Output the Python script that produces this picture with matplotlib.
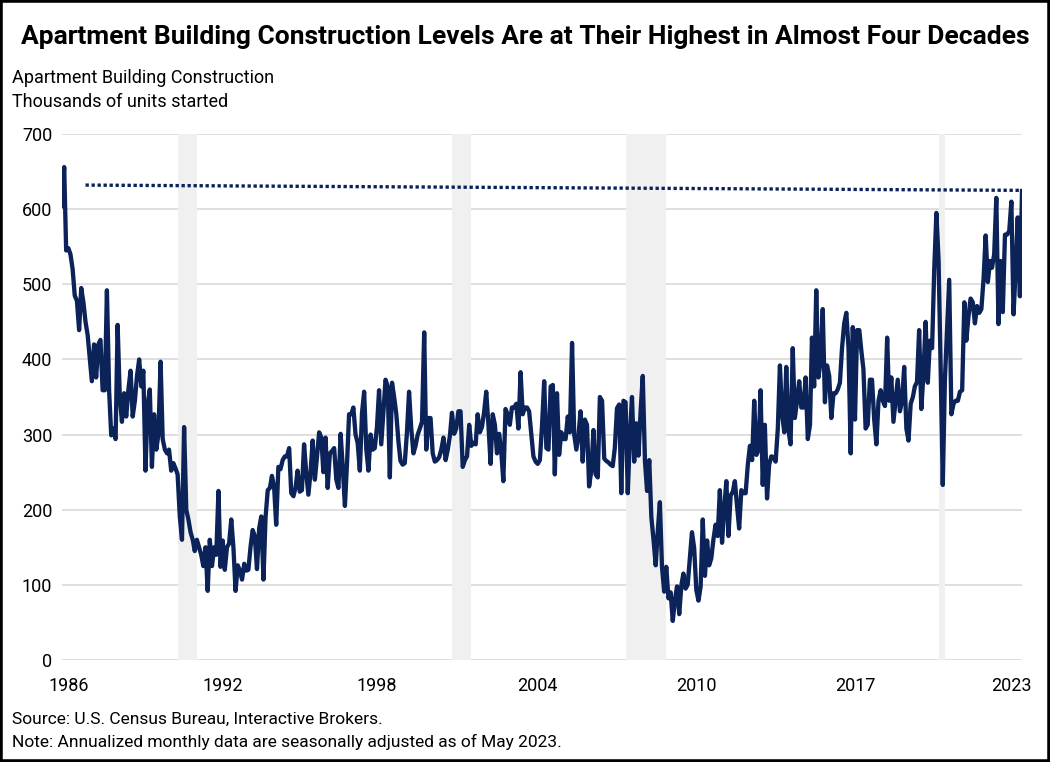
import matplotlib.pyplot as plt
import matplotlib.patches as patches
import pandas as pd

NAVY = '#0b2359'
GRID = '#d9d9d9'
BAND = '#f0f0f0'
FONT = ['Liberation Sans Narrow', 'Roboto', 'DejaVu Sans']

# monthly apartment starts (5+ units), thousands, Jan 1986 .. May 2023
starts_1980s = [
    604, 656, 545, 548, 540, 520, 485, 478, 439, 495, 476, 450,
    432, 400, 371, 420, 376, 420, 426, 359, 359, 492, 359, 299,
    308, 294, 446, 350, 317, 355, 324, 360, 385, 324, 345, 378,
    400, 364, 385, 252, 340, 360, 257, 327, 280, 300, 397, 294,
]
starts_1990s = [
    280, 275, 280, 252, 262, 255, 247, 191, 160, 310, 200, 187,
    170, 160, 145, 160, 150, 140, 125, 150, 92, 160, 125, 150,
    140, 225, 124, 159, 120, 150, 155, 187, 149, 92, 126, 119,
    107, 128, 119, 120, 150, 173, 165, 121, 175, 191, 107, 190,
    226, 229, 245, 231, 180, 257, 254, 266, 271, 271, 282, 222,
    218, 230, 252, 224, 226, 287, 250, 220, 250, 292, 240, 270,
    303, 296, 250, 296, 229, 275, 278, 282, 240, 229, 301, 257,
    205, 264, 327, 327, 336, 300, 289, 252, 329, 357, 280, 252,
    300, 280, 282, 310, 359, 287, 330, 373, 364, 243, 369, 350,
    327, 290, 265, 260, 262, 303, 357, 308, 275, 285, 300, 308,
]
starts_2000s = [
    317, 436, 280, 322, 322, 275, 264, 266, 270, 280, 296, 266,
    280, 299, 329, 301, 308, 331, 331, 257, 266, 271, 313, 285,
    289, 287, 327, 303, 310, 330, 357, 313, 261, 327, 313, 275,
    301, 275, 238, 334, 327, 313, 336, 336, 341, 308, 383, 327,
    336, 336, 331, 300, 271, 264, 261, 266, 313, 371, 282, 280,
    364, 366, 247, 355, 273, 303, 294, 294, 324, 303, 422, 300,
    280, 300, 331, 264, 320, 313, 231, 252, 306, 247, 243, 350,
    345, 268, 265, 263, 260, 258, 282, 335, 340, 222, 345, 343,
    222, 300, 350, 264, 315, 272, 330, 378, 265, 225, 266, 190,
    160, 126, 170, 210, 124, 91, 124, 82, 90, 52, 80, 98,
]
starts_2010s = [
    61, 100, 115, 95, 100, 135, 170, 149, 93, 79, 98, 187,
    112, 159, 126, 135, 160, 180, 165, 226, 156, 200, 238, 165,
    219, 224, 238, 205, 175, 226, 222, 222, 260, 285, 266, 345,
    273, 280, 359, 233, 313, 215, 260, 271, 270, 264, 308, 392,
    327, 303, 390, 306, 287, 415, 322, 345, 371, 336, 336, 376,
    294, 313, 429, 364, 492, 376, 397, 467, 343, 392, 378, 322,
    355, 355, 360, 369, 415, 448, 462, 415, 275, 443, 320, 439,
    439, 410, 387, 308, 313, 373, 373, 320, 287, 345, 359, 345,
    338, 429, 345, 376, 317, 345, 373, 331, 345, 390, 308, 292,
    341, 350, 364, 370, 439, 334, 380, 450, 369, 425, 415, 518,
]
starts_2020s = [
    595, 532, 392, 233, 373, 439, 506, 327, 341, 345, 345, 357,
    359, 476, 425, 457, 481, 476, 448, 471, 462, 467, 507, 565,
    503, 531, 522, 540, 615, 447, 531, 463, 566, 566, 571, 610,
    460, 522, 589, 484, 624,
]

# dotted "highest level" line, as drawn in the source
ref_start, ref_end = '1986-12-01', '2023-05-01'
ref_levels = [632, 625]

# NBER recessions
rec_start = ['1990-07-01', '2001-03-01', '2007-12-01', '2020-02-01']
rec_end = ['1991-03-31', '2001-11-30', '2009-06-30', '2020-04-30']

tick_dates = ['1986-04-01', '1992-04-01', '1998-04-01', '2004-07-01',
              '2010-09-01', '2016-11-01', '2022-12-01']
tick_labels = ['1986', '1992', '1998', '2004', '2010', '2017', '2023']

values = starts_1980s + starts_1990s + starts_2000s + starts_2010s + starts_2020s
dates = pd.date_range('1986-01-01', periods=len(values), freq='MS')

plt.rcParams['font.family'] = FONT

fig = plt.figure(figsize=(10.5, 7.62), dpi=100)
ax = fig.add_axes([62 / 1050, 1 - 660 / 762, 960 / 1050, 526 / 762])

for s, e in zip(rec_start, rec_end):
    ax.axvspan(pd.Timestamp(s), pd.Timestamp(e), color=BAND, lw=0, zorder=1)

ax.plot(dates, values, color=NAVY, lw=3.1, solid_joinstyle='round', zorder=3)
ax.plot(pd.to_datetime([ref_start, ref_end]), ref_levels, color=NAVY, lw=2.4,
        linestyle=(0, (1, 0.8)), dash_capstyle='butt', zorder=3)

ax.set_xlim(dates[0], dates[-1])
ax.set_ylim(0, 700)
ax.set_yticks(range(0, 701, 100))
ax.set_xticks(pd.to_datetime(tick_dates))
ax.set_xticklabels(tick_labels)
ax.grid(axis='y', color=GRID, lw=1.2)
ax.set_axisbelow(True)
for sp in ax.spines.values():
    sp.set_visible(False)
ax.tick_params(axis='both', length=0, labelsize=13, colors='#000000')
ax.tick_params(axis='x', pad=12)
ax.tick_params(axis='y', pad=7)

fig.text(0.5, 1 - 37 / 762,
         'Apartment Building Construction Levels Are at Their Highest in Almost Four Decades',
         ha='center', va='center', fontsize=19, fontweight='bold')
fig.text(12 / 1050, 1 - 78 / 762, 'Apartment Building Construction',
         ha='left', va='center', fontsize=13)
fig.text(12 / 1050, 1 - 102 / 762, 'Thousands of units started',
         ha='left', va='center', fontsize=13)
fig.text(12 / 1050, 1 - 719 / 762, 'Source: U.S. Census Bureau, Interactive Brokers.',
         ha='left', va='center', fontsize=12.5)
fig.text(12 / 1050, 1 - 742 / 762,
         'Note: Annualized monthly data are seasonally adjusted as of May 2023.',
         ha='left', va='center', fontsize=12.5)

fig.patches.append(patches.Rectangle((0, 0), 1, 1, transform=fig.transFigure,
                                     fill=False, ec='black', lw=4))

fig.savefig('out.png', dpi=100)
